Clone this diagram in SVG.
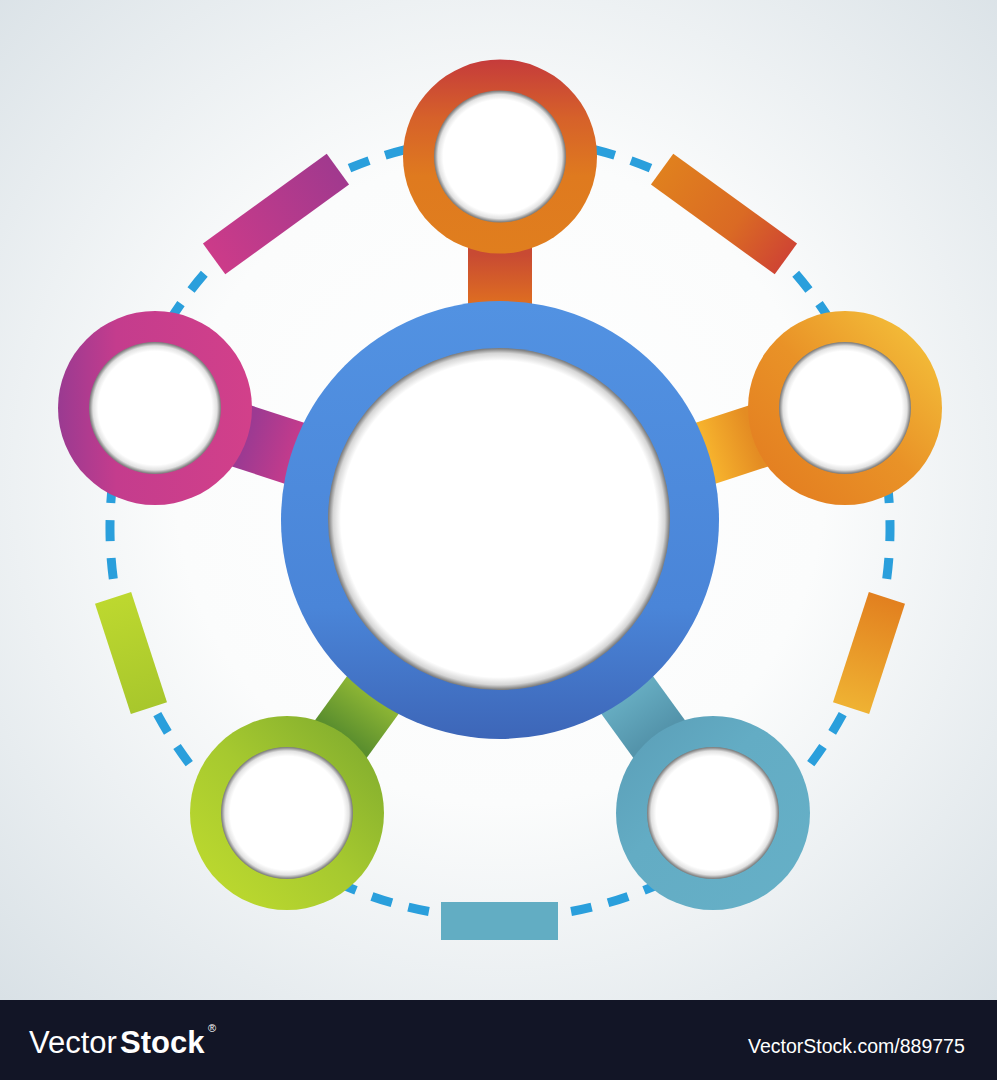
<svg xmlns="http://www.w3.org/2000/svg" width="997" height="1080" viewBox="0 0 997 1080">
<defs>
<style>
.hole{fill:url(#hole)}
.bigHole{fill:url(#bigHole)}
.dash{fill:none;stroke:#2a9fdc;stroke-width:9;stroke-dasharray:21 17}
.foot{fill:#ffffff;font-family:'Liberation Sans',Arial,sans-serif}
</style>
<radialGradient id="bg" cx="500" cy="480" r="720" gradientUnits="userSpaceOnUse">
<stop offset="0" stop-color="#ffffff"/>
<stop offset="0.45" stop-color="#fbfcfc"/>
<stop offset="1" stop-color="#d9e1e6"/>
</radialGradient>
<radialGradient id="hole" cx="0.5" cy="0.5" r="0.5">
<stop offset="0.86" stop-color="#ffffff"/>
<stop offset="0.94" stop-color="#e2e2e2"/>
<stop offset="0.985" stop-color="#8e8e8e"/>
<stop offset="1" stop-color="#7c7c7c"/>
</radialGradient>
<radialGradient id="bigHole" cx="0.5" cy="0.5" r="0.5">
<stop offset="0.925" stop-color="#ffffff"/>
<stop offset="0.97" stop-color="#d6d6d6"/>
<stop offset="0.993" stop-color="#8a8a8a"/>
<stop offset="1" stop-color="#7a7a7a"/>
</radialGradient>
<linearGradient id="gTop" x1="0" y1="0" x2="0" y2="1">
<stop offset="0" stop-color="#c53b3b"/>
<stop offset="0.3" stop-color="#d6612a"/>
<stop offset="0.6" stop-color="#df7a1f"/>
<stop offset="1" stop-color="#e07e1e"/>
</linearGradient>
<linearGradient id="gLeft" x1="0" y1="0" x2="1" y2="0">
<stop offset="0" stop-color="#9a3a91"/>
<stop offset="0.3" stop-color="#c43c8d"/>
<stop offset="1" stop-color="#d2408a"/>
</linearGradient>
<linearGradient id="gRight" x1="0" y1="1" x2="1" y2="0">
<stop offset="0" stop-color="#e2791f"/>
<stop offset="0.5" stop-color="#e99227"/>
<stop offset="1" stop-color="#f6c93e"/>
</linearGradient>
<linearGradient id="gBL" x1="0" y1="1" x2="1" y2="0">
<stop offset="0" stop-color="#c2dd2e"/>
<stop offset="0.5" stop-color="#a6c92f"/>
<stop offset="1" stop-color="#7aa72e"/>
</linearGradient>
<linearGradient id="gBR" x1="0" y1="0" x2="1" y2="1">
<stop offset="0" stop-color="#5a9db6"/>
<stop offset="0.4" stop-color="#63acc4"/>
<stop offset="1" stop-color="#66b0c7"/>
</linearGradient>
<linearGradient id="gCenter" x1="0" y1="0" x2="0" y2="1">
<stop offset="0" stop-color="#5292e2"/>
<stop offset="0.7" stop-color="#4a85d8"/>
<stop offset="1" stop-color="#3d66b8"/>
</linearGradient>
<linearGradient id="sTop" gradientUnits="userSpaceOnUse" x1="219" y1="0" x2="266" y2="0">
<stop offset="0" stop-color="#dd6c22"/>
<stop offset="1" stop-color="#c84a33"/>
</linearGradient>
<linearGradient id="sLeft" gradientUnits="userSpaceOnUse" x1="219" y1="0" x2="266" y2="0">
<stop offset="0" stop-color="#c23b8c"/>
<stop offset="1" stop-color="#9c3a92"/>
</linearGradient>
<linearGradient id="sRight" gradientUnits="userSpaceOnUse" x1="219" y1="0" x2="266" y2="0">
<stop offset="0" stop-color="#f6b22d"/>
<stop offset="1" stop-color="#e48c23"/>
</linearGradient>
<linearGradient id="sBL" gradientUnits="userSpaceOnUse" x1="219" y1="0" x2="266" y2="0">
<stop offset="0" stop-color="#8bb434"/>
<stop offset="1" stop-color="#5b8f2e"/>
</linearGradient>
<linearGradient id="sBR" gradientUnits="userSpaceOnUse" x1="219" y1="0" x2="266" y2="0">
<stop offset="0" stop-color="#65abc0"/>
<stop offset="1" stop-color="#5494ab"/>
</linearGradient>
<linearGradient id="bPink" x1="0" y1="0" x2="1" y2="0">
<stop offset="0" stop-color="#cc3b89"/>
<stop offset="1" stop-color="#a1398e"/>
</linearGradient>
<linearGradient id="bTR" x1="0" y1="0" x2="1" y2="0">
<stop offset="0" stop-color="#e0801e"/>
<stop offset="0.6" stop-color="#da6a24"/>
<stop offset="1" stop-color="#cf4533"/>
</linearGradient>
<linearGradient id="bRight" x1="0" y1="0" x2="1" y2="0">
<stop offset="0" stop-color="#e2801f"/>
<stop offset="1" stop-color="#efb233"/>
</linearGradient>
<linearGradient id="bGreen" x1="0" y1="0" x2="1" y2="0">
<stop offset="0" stop-color="#bdd82f"/>
<stop offset="1" stop-color="#a8c72c"/>
</linearGradient>
</defs>

<rect id="background" x="0" y="0" width="997" height="1000" fill="url(#bg)"/>

<g id="outer-path">
<path class="dash" d="M349.5 168.2 A390 390 0 0 1 500 138"/>
<path class="dash" d="M650.5 168.2 A390 390 0 0 0 500 138"/>
<path class="dash" d="M795.7 273.7 A390 390 0 0 1 870.9 407.5"/>
<path class="dash" d="M886.7 578.9 A390 390 0 0 0 870.9 407.5"/>
<path class="dash" d="M842.7 714.1 A390 390 0 0 1 729.2 843.5"/>
<path class="dash" d="M571.1 911.5 A390 390 0 0 0 729.2 843.5"/>
<path class="dash" d="M428.9 911.5 A390 390 0 0 1 270.8 843.5"/>
<path class="dash" d="M157.3 714.1 A390 390 0 0 0 270.8 843.5"/>
<path class="dash" d="M113.3 578.9 A390 390 0 0 1 129.1 407.5"/>
<path class="dash" d="M204.3 273.7 A390 390 0 0 0 129.1 407.5"/>
<rect x="-76.5" y="-19" width="153" height="38" fill="url(#bPink)" transform="translate(276 214) rotate(-36)"/>
<rect x="-76.5" y="-19" width="153" height="38" fill="url(#bTR)" transform="translate(724 214) rotate(36)"/>
<rect x="-58" y="-19" width="116" height="38" fill="url(#bRight)" transform="translate(869 653) rotate(108)"/>
<rect x="-58" y="-19" width="116" height="38" fill="url(#bGreen)" transform="translate(131 653) rotate(72)"/>
<rect x="441" y="902" width="117" height="38" fill="#62adc3"/>
</g>

<g id="connectors">
<rect x="200" y="-32" width="100" height="64" fill="url(#sTop)" transform="translate(500 520) rotate(-90)"/>
<rect x="200" y="-32" width="100" height="64" fill="url(#sRight)" transform="translate(500 520) rotate(-18)"/>
<rect x="200" y="-32" width="100" height="64" fill="url(#sBR)" transform="translate(500 520) rotate(54)"/>
<rect x="200" y="-32" width="100" height="64" fill="url(#sBL)" transform="translate(500 520) rotate(126)"/>
<rect x="200" y="-32" width="100" height="64" fill="url(#sLeft)" transform="translate(500 520) rotate(198)"/>
</g>

<g id="node-center">
<circle cx="500" cy="520" r="219" fill="url(#gCenter)"/>
<circle class="bigHole" cx="499" cy="519" r="171"/>
</g>
<g id="node-top">
<circle cx="500" cy="156.5" r="97" fill="url(#gTop)"/>
<circle class="hole" cx="500" cy="156.5" r="66"/>
</g>
<g id="node-right">
<circle cx="845" cy="408" r="97" fill="url(#gRight)"/>
<circle class="hole" cx="845" cy="408" r="66"/>
</g>
<g id="node-bottom-right">
<circle cx="713" cy="813" r="97" fill="url(#gBR)"/>
<circle class="hole" cx="713" cy="813" r="66"/>
</g>
<g id="node-bottom-left">
<circle cx="287" cy="813" r="97" fill="url(#gBL)"/>
<circle class="hole" cx="287" cy="813" r="66"/>
</g>
<g id="node-left">
<circle cx="155" cy="408" r="97" fill="url(#gLeft)"/>
<circle class="hole" cx="155" cy="408" r="66"/>
</g>

<g id="footer">
<rect x="0" y="1000" width="997" height="80" fill="#121526"/>
<text class="foot" x="29" y="1053" font-size="31">Vector</text>
<text class="foot" x="120" y="1053" font-size="31" font-weight="700">Stock</text>
<text class="foot" x="208" y="1032" font-size="11">®</text>
<text class="foot" x="748" y="1053" font-size="19.5">VectorStock.com/889775</text>
</g>
</svg>
